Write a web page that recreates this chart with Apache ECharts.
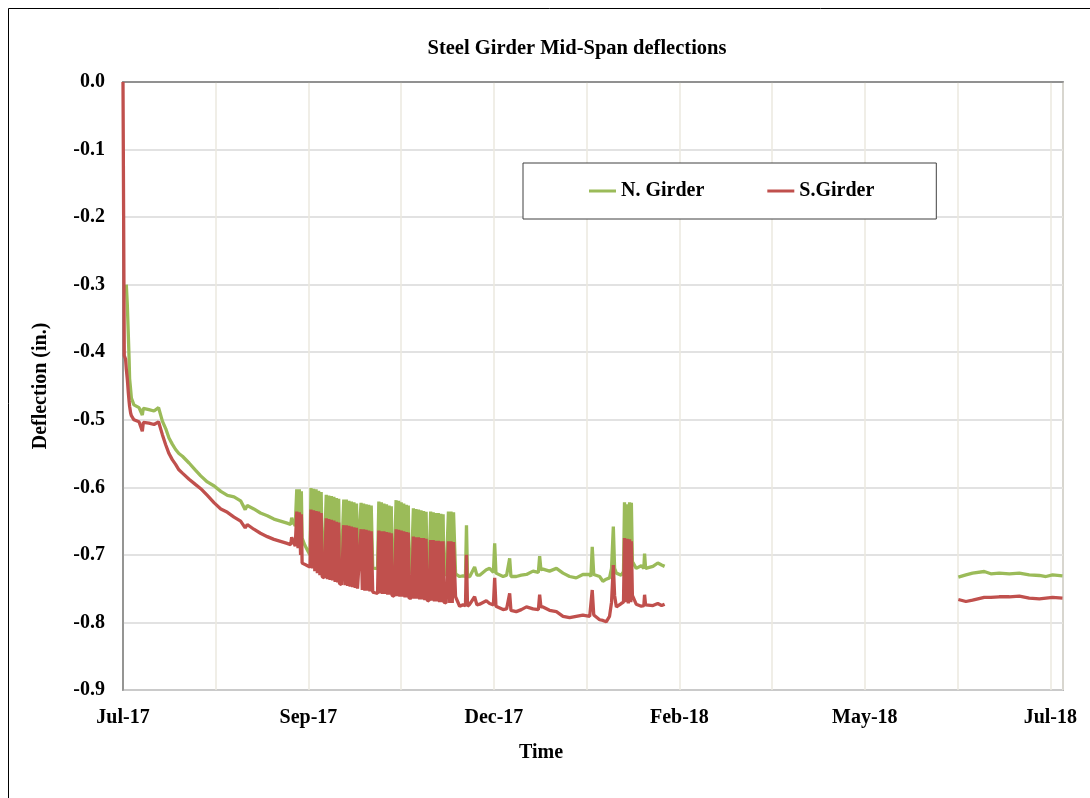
<!DOCTYPE html>
<html><head><meta charset="utf-8">
<script src="https://cdn.jsdelivr.net/npm/echarts@6/dist/echarts.min.js"></script>
<style>html,body{margin:0;padding:0;background:#fff}#c{width:1090px;height:798px}</style>
</head><body><div id="c"></div>
<script>
// Tick labels for every x gridline (every 36.5 days from start); blanks are unlabeled gridlines
const tickLabels = ['Jul-17','','Sep-17','','Dec-17','','Feb-18','','May-18','','Jul-18'];
const yTicks = [0, -0.1, -0.2, -0.3, -0.4, -0.5, -0.6, -0.7, -0.8, -0.9];

// Days since start of monitoring
const days = [
  0, 0.5, 1.0, 1.3, 1.7, 2.1, 2.4, 2.6, 3.0, 3.3, 4.3, 6.3, 7.6, 8.0, 10.2, 12.2, 14.0, 14.6, 15.5, 16.8,
  18.1, 19.4, 20.7, 22.0, 23.4, 26.0, 28.6, 30.6, 33.2, 35.9, 38.5, 41.1, 43.7, 46.3, 48.1, 48.9, 51.5, 54.1, 56.8, 59.4,
  62.0, 64.6, 66.0, 66.4, 67.0, 67.8,
  68.4, 68.9, 69.4, 69.9, 70.2, 70.5,
  71.5, 72.6, 73.6,
  74.0, 74.5, 75.0, 75.5, 76.0, 76.5, 77.0, 77.5, 78.0, 78.4,
  79.2,
  80.0, 80.5, 81.0, 81.5, 82.0, 82.5, 83.0, 83.5, 84.0, 84.5, 84.9, 85.2,
  86.0,
  86.9, 87.4, 87.9, 88.4, 88.9, 89.4, 89.9, 90.4, 90.9, 91.4, 91.9, 92.3,
  93.0,
  93.7, 94.2, 94.7, 95.2, 95.7, 96.2, 96.7, 97.2, 97.7, 98.3,
  99.2, 100.2,
  100.7, 101.2, 101.7, 102.2, 102.7, 103.2, 103.7, 104.2, 104.7, 105.2, 105.6, 105.9,
  106.7,
  107.5, 108.0, 108.5, 109.0, 109.5, 110.0, 110.5, 111.0, 111.5, 112.0, 112.3, 112.6,
  113.5,
  114.3, 114.8, 115.3, 115.8, 116.3, 116.8, 117.3, 117.8, 118.3, 118.8, 119.3, 119.7,
  120.5,
  121.1, 121.6, 122.1, 122.6, 123.1, 123.6, 124.1, 124.6, 125.1, 125.6, 126.0, 126.3,
  127.2,
  128.1, 128.6, 129.1, 129.6, 130.1, 130.6, 130.9,
  132.5, 133.8, 134.8, 135.2, 135.6,
  136.5, 138.4, 139.3, 140.4, 143.0, 144.3, 145.8, 146.3, 146.8, 149.6,
  151.0, 152.2, 152.7, 154.8, 156.8, 158.8, 161.4, 163.5, 164.0, 164.5,
  165.3, 167.9, 170.6, 173.2, 175.8, 178.4, 181.0, 183.7, 184.2, 184.7,
  185.3, 187.6, 188.9, 190.2, 191.5, 192.3, 193.0, 193.5, 194.2, 196.1,
  197.0, 197.4, 197.9, 198.4, 198.9, 199.4, 199.9, 200.1, 200.5, 200.7,
  202.0, 204.0, 205.0, 205.3, 205.7, 206.0, 208.6, 210.5, 212.0, 213.2,
  270,
  328.8, 331.8, 334.4, 339.0, 341.6, 344.9, 348.9, 352.8, 356.7, 360.7, 363.3, 365.9, 369.8
];

// N. Girder deflection (in.)
const north = [
  null, null, null, -0.30, -0.33, -0.375, -0.41, -0.439, -0.455, -0.468, -0.478, -0.482, -0.493, -0.483, -0.485, -0.487, -0.482, -0.484, -0.502, -0.513,
  -0.527, -0.536, -0.544, -0.55, -0.554, -0.564, -0.575, -0.583, -0.592, -0.598, -0.606, -0.612, -0.614, -0.62, -0.633, -0.627, -0.632, -0.638, -0.642, -0.647,
  -0.65, -0.653, -0.655, -0.645, -0.652, -0.657,
  -0.603, -0.66, -0.603, -0.665, -0.606, -0.675,
  -0.685, -0.693, -0.70,
  -0.601, -0.70, -0.602, -0.702, -0.603, -0.703, -0.605, -0.704, -0.607, -0.705,
  -0.706,
  -0.611, -0.707, -0.612, -0.707, -0.613, -0.708, -0.614, -0.709, -0.616, -0.71, -0.617, -0.71,
  -0.711,
  -0.618, -0.712, -0.618, -0.712, -0.62, -0.713, -0.621, -0.713, -0.622, -0.714, -0.624, -0.714,
  -0.715,
  -0.623, -0.716, -0.624, -0.717, -0.625, -0.717, -0.626, -0.718, -0.627, -0.719,
  -0.72, -0.72,
  -0.621, -0.72, -0.622, -0.721, -0.624, -0.721, -0.625, -0.722, -0.627, -0.722, -0.628, -0.722,
  -0.723,
  -0.619, -0.723, -0.62, -0.724, -0.622, -0.724, -0.624, -0.725, -0.626, -0.725, -0.627, -0.725,
  -0.726,
  -0.631, -0.726, -0.632, -0.726, -0.633, -0.727, -0.634, -0.727, -0.635, -0.727, -0.636, -0.727,
  -0.728,
  -0.636, -0.728, -0.637, -0.728, -0.638, -0.729, -0.638, -0.729, -0.639, -0.729, -0.64, -0.729,
  -0.729,
  -0.636, -0.729, -0.636, -0.73, -0.637, -0.637, -0.728,
  -0.732, -0.731, -0.732, -0.656, -0.732,
  -0.732, -0.718, -0.73, -0.73, -0.722, -0.72, -0.726, -0.683, -0.727, -0.732,
  -0.73, -0.705, -0.732, -0.732, -0.73, -0.729, -0.724, -0.726, -0.702, -0.722,
  -0.721, -0.724, -0.72, -0.727, -0.732, -0.734, -0.729, -0.729, -0.732, -0.688,
  -0.729, -0.732, -0.739, -0.736, -0.734, -0.72, -0.658, -0.72, -0.727, -0.73,
  -0.725, -0.622, -0.725, -0.625, -0.726, -0.622, -0.725, -0.623, -0.71, -0.712,
  -0.72, -0.716, -0.72, -0.698, -0.72, -0.72, -0.717, -0.712, -0.715, -0.717,
  null,
  -0.733, -0.7296, -0.727, -0.7246, -0.728, -0.727, -0.728, -0.727, -0.7296, -0.7305, -0.732, -0.7296, -0.731
];

// S.Girder deflection (in.)
const south = [
  0.0, -0.405, -0.41, -0.425, -0.44, -0.46, -0.473, -0.48, -0.49, -0.494, -0.50, -0.503, -0.517, -0.504, -0.505, -0.507, -0.503, -0.505, -0.522, -0.537,
  -0.55, -0.559, -0.566, -0.574, -0.579, -0.588, -0.596, -0.602, -0.612, -0.623, -0.632, -0.637, -0.644, -0.65, -0.66, -0.655, -0.662, -0.668, -0.673, -0.677,
  -0.68, -0.683, -0.685, -0.674, -0.68, -0.687,
  -0.636, -0.69, -0.637, -0.70, -0.64, -0.712,
  -0.714, -0.716, -0.718,
  -0.633, -0.72, -0.634, -0.724, -0.635, -0.727, -0.636, -0.73, -0.638, -0.732,
  -0.734,
  -0.646, -0.736, -0.647, -0.737, -0.648, -0.738, -0.649, -0.74, -0.651, -0.741, -0.652, -0.742,
  -0.744,
  -0.656, -0.745, -0.656, -0.746, -0.657, -0.747, -0.658, -0.748, -0.659, -0.749, -0.66, -0.75,
  -0.751,
  -0.662, -0.752, -0.662, -0.753, -0.663, -0.753, -0.664, -0.754, -0.665, -0.755,
  -0.756, -0.757,
  -0.664, -0.757, -0.665, -0.758, -0.665, -0.758, -0.666, -0.759, -0.667, -0.759, -0.668, -0.76,
  -0.761,
  -0.662, -0.761, -0.663, -0.762, -0.664, -0.762, -0.665, -0.763, -0.666, -0.763, -0.667, -0.764,
  -0.764,
  -0.673, -0.765, -0.674, -0.765, -0.674, -0.766, -0.675, -0.766, -0.675, -0.767, -0.676, -0.767,
  -0.768,
  -0.678, -0.768, -0.678, -0.769, -0.679, -0.769, -0.679, -0.77, -0.68, -0.77, -0.68, -0.77,
  -0.771,
  -0.68, -0.771, -0.68, -0.771, -0.681, -0.681, -0.762,
  -0.776, -0.774, -0.775, -0.70, -0.776,
  -0.773, -0.762, -0.774, -0.773, -0.768, -0.772, -0.774, -0.734, -0.776, -0.781,
  -0.78, -0.757, -0.782, -0.784, -0.781, -0.777, -0.78, -0.781, -0.759, -0.777,
  -0.777, -0.782, -0.784, -0.791, -0.793, -0.791, -0.789, -0.791, -0.792, -0.752,
  -0.789, -0.796, -0.797, -0.799, -0.791, -0.77, -0.715, -0.76, -0.777, -0.772,
  -0.77, -0.675, -0.77, -0.676, -0.772, -0.677, -0.77, -0.68, -0.76, -0.762,
  -0.773, -0.776, -0.775, -0.759, -0.774, -0.773, -0.775, -0.772, -0.775, -0.773,
  null,
  -0.766, -0.769, -0.767, -0.763, -0.763, -0.762, -0.762, -0.761, -0.764, -0.765, -0.764, -0.763, -0.764
];

const FONT = '"Liberation Serif", "Times New Roman", serif';
const txt = {fontFamily: FONT, fontWeight: 'bold', fontSize: 20, color: '#000'};
const STEP = 36.5;

const chart = echarts.init(document.getElementById('c'), null, {renderer: 'canvas'});
chart.setOption({
  animation: false,
  backgroundColor: '#fff',
  title: {
    text: 'Steel Girder Mid-Span deflections',
    left: 577, top: 38, textAlign: 'center', padding: 0,
    textStyle: Object.assign({}, txt, {fontSize: 20.5})
  },
  legend: {
    data: ['N. Girder', 'S.Girder'],
    left: 523, top: 163,
    padding: [18, 62, 18, 66],
    icon: 'rect',
    itemGap: 63, itemWidth: 27, itemHeight: 3,
    borderColor: '#404040', borderWidth: 1,
    backgroundColor: '#fff',
    textStyle: Object.assign({}, txt)
  },
  grid: {left: 123, right: 27, top: 82, bottom: 108, show: true, borderColor: '#7f7f7f', borderWidth: 1.5},
  xAxis: {
    type: 'value', min: 0, max: 370, interval: STEP,
    axisLine: {show: true, lineStyle: {color: '#7f7f7f', width: 1.5}},
    axisTick: {show: false},
    splitLine: {show: true, lineStyle: {color: '#ebe9df', width: 1.5}},
    axisLabel: Object.assign({}, txt, {
      margin: 18,
      showMaxLabel: false,
      formatter: function (v) {
        const i = Math.round(v / STEP);
        if (Math.abs(v - i * STEP) > 0.01) return '';
        return tickLabels[i] || '';
      }
    })
  },
  yAxis: {
    type: 'value', min: yTicks[yTicks.length - 1], max: yTicks[0], interval: 0.1,
    name: 'Deflection (in.)', nameLocation: 'middle', nameGap: 72, nameRotate: 90,
    nameTextStyle: Object.assign({}, txt),
    axisLine: {show: true, lineStyle: {color: '#7f7f7f', width: 1.5}},
    axisTick: {show: false},
    splitLine: {show: true, lineStyle: {color: '#d9d9d9', width: 1.5}},
    axisLabel: Object.assign({}, txt, {margin: 18, formatter: function (v) { return (Math.abs(v) < 1e-9 ? 0 : v).toFixed(1); }})
  },
  graphic: [
    {type: 'rect', shape: {x: 8.5, y: 8.5, width: 1200, height: 1200}, style: {fill: 'none', stroke: '#000', lineWidth: 1}, silent: true},
    {type: 'text', x: 541, y: 753, style: {text: 'Time', font: 'bold 20px "Liberation Serif"', fill: '#000', align: 'center', verticalAlign: 'middle', textAlign: 'center', textVerticalAlign: 'middle'}}
  ],
  series: [
    {
      name: 'N. Girder', type: 'line', showSymbol: false, symbol: 'none', connectNulls: false,
      lineStyle: {width: 3.3, color: '#9BBB59'}, itemStyle: {color: '#9BBB59'},
      data: days.map(function (d, i) { return [d, north[i]]; })
    },
    {
      name: 'S.Girder', type: 'line', showSymbol: false, symbol: 'none', connectNulls: false,
      lineStyle: {width: 3.3, color: '#C0504D'}, itemStyle: {color: '#C0504D'},
      data: days.map(function (d, i) { return [d, south[i]]; })
    }
  ]
});
</script>
</body></html>
